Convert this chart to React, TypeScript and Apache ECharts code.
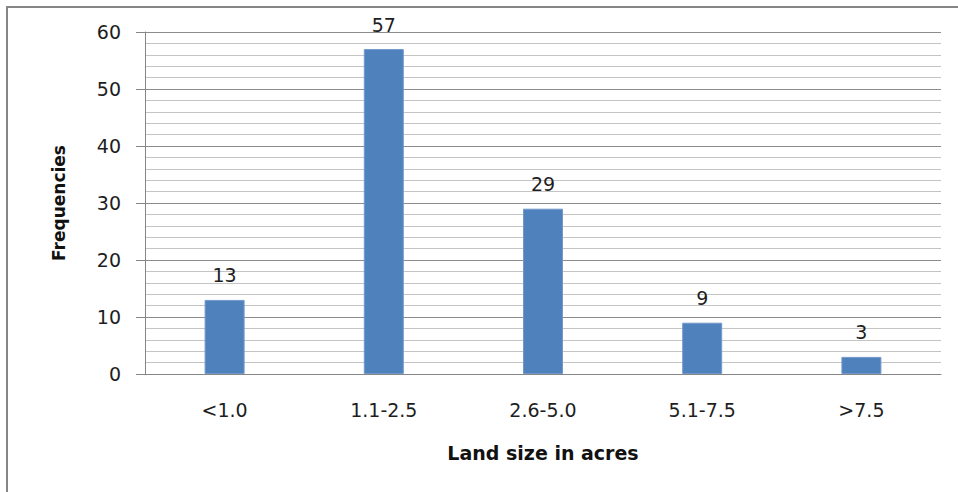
import React, { useEffect, useRef } from "react";
import * as echarts from "echarts";

const categories = ["<1.0", "1.1-2.5", "2.6-5.0", "5.1-7.5", ">7.5"];
const frequencies = [13, 57, 29, 9, 3];
const yTicks = { min: 0, max: 60, interval: 10 };

const FONT = "DejaVu Sans";

export default function App() {
  const ref = useRef<HTMLDivElement>(null);

  useEffect(() => {
    if (!ref.current) return;
    const chart = echarts.init(ref.current, null, { renderer: "svg" });
    chart.setOption({
      animation: false,
      backgroundColor: "#ffffff",
      grid: { left: 145, right: 17, top: 32, bottom: 118, containLabel: false },
      graphic: [
        {
          type: "rect",
          shape: { x: 7, y: 7, width: 1200, height: 800 },
          style: { fill: "none", stroke: "#868686", lineWidth: 2 },
          silent: true,
        },
      ],
      xAxis: {
        type: "category",
        data: categories,
        name: "Land size in acres",
        nameLocation: "middle",
        nameGap: 69,
        nameTextStyle: { fontFamily: FONT, fontSize: 19, fontWeight: "bold", color: "#111" },
        axisLine: { show: true, lineStyle: { color: "#868686", width: 1 } },
        axisTick: { show: false },
        axisLabel: { fontFamily: FONT, fontSize: 19, color: "#1e1e1e", margin: 26 },
      },
      yAxis: {
        type: "value",
        min: yTicks.min,
        max: yTicks.max,
        interval: yTicks.interval,
        name: "Frequencies",
        nameLocation: "middle",
        nameGap: 78,
        nameTextStyle: { fontFamily: FONT, fontSize: 17, fontWeight: "bold", color: "#111" },
        axisLine: { show: true, lineStyle: { color: "#868686", width: 1 } },
        axisTick: { show: true, inside: false, length: 9, lineStyle: { color: "#868686" } },
        axisLabel: { fontFamily: FONT, fontSize: 19, color: "#1e1e1e", margin: 24 },
        splitLine: { show: true, lineStyle: { color: "#8c8c8c", width: 1 } },
        minorTick: { show: false, splitNumber: 5 },
        minorSplitLine: { show: true, lineStyle: { color: "#c4c4c4", width: 1 } },
      },
      series: [
        {
          type: "bar",
          data: frequencies,
          barWidth: 40,
          itemStyle: { color: "#4F81BD", borderColor: "#7199cc", borderWidth: 1 },
          label: {
            show: true,
            position: "top",
            distance: 15,
            fontFamily: FONT,
            fontSize: 19,
            color: "#1e1e1e",
          },
        },
      ],
    });
    return () => chart.dispose();
  }, []);

  return (
    <div
      ref={ref}
      style={{ position: "absolute", left: 0, top: 0, width: 958, height: 492, background: "#fff" }}
    />
  );
}
